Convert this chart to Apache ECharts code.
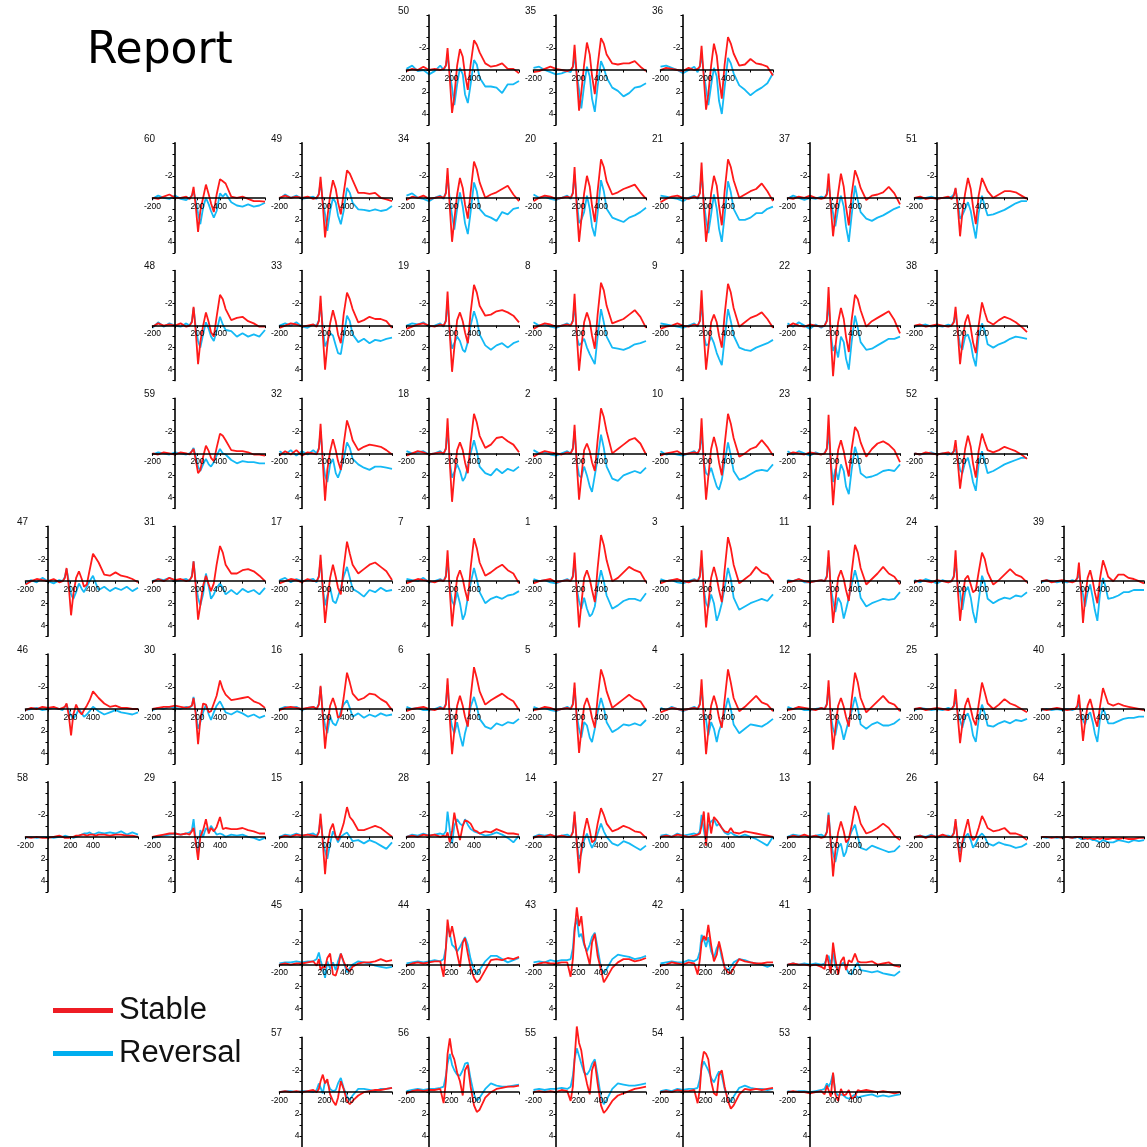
<!DOCTYPE html>
<html>
<head>
<meta charset="utf-8">
<title>Report</title>
<script src="https://cdn.jsdelivr.net/npm/echarts@6/dist/echarts.min.js"></script>
<style>
  html, body { margin: 0; padding: 0; background: #fff; }
  #main { width: 1147px; height: 1147px; }
</style>
</head>
<body>
<div id="main"></div>
<script>
// Sample times (ms) shared by every trace
const times = [-200,-150,-100,-50,0,50,100,130,150,165,185,205,225,250,275,300,320,345,370,400,425,450,500,550,600,650,700,750,800];

// Grand-average ERPs (µV) per electrode: stableNN = Stable condition, reversalNN = Reversal condition
const stable50 = [0.1,-0.1,0,-0.3,0,-0.1,0,-0.1,-0.4,-2.0,0.8,3.9,2.4,-0.4,-1.9,-1.2,0.4,1.8,-0.5,-2.7,-2.3,-1.6,-0.6,-0.3,-0.4,-0.6,-0.1,-0.1,0.3];
const reversal50 = [-0.1,-0.4,0.1,0,0.4,0.1,-0.4,0,-0.4,-1.3,0.3,1.6,3.2,1.3,-0.2,0.4,2.2,3.0,1.3,-0.9,-0.5,0.7,1.5,1.5,1.6,2.1,1.3,1.3,1.0];
const stable35 = [0.2,0.1,-0.1,-0.3,-0.1,0,0.1,0,-0.3,-2.3,0.6,3.7,2.0,-0.5,-2.5,-1.4,0.5,2.2,-0.4,-2.9,-2.4,-1.4,-0.6,-0.5,-0.6,-0.6,-0.8,-0.3,0.1];
const reversal35 = [-0.2,-0.3,0,0.2,0.4,0.3,0.1,0.2,-0.3,-1.2,0.4,1.8,3.5,1.4,-0.3,0.6,2.6,3.8,1.5,-0.8,-0.2,0.7,1.6,1.9,2.4,2.1,1.6,1.5,1.2];
const stable36 = [0,-0.2,-0.1,0,0.1,-0.2,0,-0.1,-0.3,-2.2,0.7,3.6,2.2,-0.4,-2.4,-1.3,0.7,2.6,-0.5,-3.0,-2.4,-1.5,-0.4,-0.5,-1.0,-0.6,-0.5,-0.3,0.5];
const reversal36 = [-0.3,-0.4,-0.2,0,0.3,0,-0.3,0.2,-0.4,-1.3,0.3,1.7,3.2,1.4,-0.2,0.6,2.8,4.0,1.6,-1.1,-0.6,0.3,1.4,1.8,2.3,1.9,1.6,1.2,0.3];

const stable60 = [0,0.1,-0.1,-0.3,0,0,-0.1,0.1,-0.2,-1.0,0.8,3.1,1.2,0,-1.2,-0.3,0.5,1.3,-0.3,-1.7,-1.5,-1.3,-0.1,0,-0.1,0.1,0.3,0.3,0.35];
const reversal60 = [0.1,-0.2,0,0.1,-0.2,0.1,0.2,0,-0.2,-0.6,0.3,1.4,2.4,0.9,0,0.6,1.2,1.8,1.2,-0.4,-0.1,-0.4,0.4,0.7,0.8,0.6,0.8,0.7,0.45];
const stable49 = [0,-0.2,0,-0.1,0,-0.1,0.1,0,-0.3,-1.9,0.6,3.6,1.8,-0.2,-1.6,-0.8,0.4,1.5,-0.4,-2.5,-2.2,-1.6,-0.45,-0.45,-0.35,-0.45,0,0.15,0.3];
const reversal49 = [0.1,-0.3,0,-0.2,0.1,0,-0.1,0.1,-0.4,-1.4,0.3,1.5,3.0,1.2,0,0.45,1.6,2.4,1.2,-0.9,-0.45,0.45,1.05,1.1,1.2,1.05,1.2,1.1,0.75];
const stable34 = [0.2,-0.1,0,-0.2,0.1,0,-0.1,0,-0.4,-2.7,0.9,4.0,2.0,-0.3,-1.8,-0.9,0.6,1.9,-0.5,-3.3,-2.6,-1.4,0,-0.3,-0.5,-0.8,-1.1,-0.3,0.3];
const reversal34 = [-0.2,-0.4,0,0.1,0.3,0,-0.2,0.1,-0.5,-2.0,0.2,1.6,2.9,1.0,-0.5,0.8,2.3,3.3,1.3,-1.4,-0.6,1.0,1.6,1.8,2.1,1.3,1.5,1.0,0.9];
const stable20 = [0.3,0,-0.2,-0.1,0.1,0,-0.1,0,-0.4,-2.8,0.9,4.0,2.0,-0.4,-2.0,-1.0,0.7,2.2,-0.6,-3.5,-2.8,-1.5,-0.3,-0.5,-0.8,-1.0,-1.2,-0.5,0.1];
const reversal20 = [-0.3,0,-0.1,0.1,0.2,0,-0.2,0.1,-0.5,-2.1,0.3,2.3,2.0,1.3,-0.2,1.0,2.6,3.5,1.4,-1.6,-0.6,1.0,1.8,2.0,2.2,1.8,1.6,1.3,0.9];
const stable21 = [0.4,0.1,-0.1,-0.2,0,0.1,-0.1,0,-0.4,-3.2,0.9,4.0,2.2,-0.4,-2.0,-1.1,0.7,2.5,-0.6,-3.5,-2.8,-1.6,0,-0.3,-0.6,-0.8,-1.3,-0.6,0.3];
const reversal21 = [-0.2,-0.1,0,0.1,0.3,0,-0.2,0.1,-0.5,-2.2,0.3,2.0,3.2,1.5,-0.3,1.0,2.8,4.0,1.6,-1.5,-0.5,1.0,2.0,2.0,1.8,1.4,1.4,1.0,0.8];
const stable37 = [0,0.1,-0.1,0,-0.2,0,0.1,0,-0.3,-2.2,0.8,3.5,1.6,-0.4,-2.2,-1.0,0.8,2.5,-0.3,-2.5,-1.8,-0.9,0.2,-0.2,-0.3,-0.5,-1.0,-0.4,0.6];
const reversal37 = [0.1,-0.2,0,0.2,0,0.1,-0.1,0,-0.4,-1.2,0.3,1.4,2.6,1.0,-0.2,0.8,2.6,4.0,1.6,-1.1,0.2,1.3,1.9,2.1,1.8,1.6,1.3,1.0,0.8];
const stable51 = [0,-0.1,0.1,0,0.1,0,-0.1,0.1,-0.2,-0.9,0.8,3.5,1.4,-0.4,-1.8,-0.8,0.8,2.4,-0.2,-1.8,-1.2,-0.6,0,-0.3,-0.6,-0.6,-0.5,-0.2,0.1];
const reversal51 = [0,0.1,0,-0.1,0.1,0,0,-0.1,-0.3,-0.8,0.4,1.9,1.6,1.0,0.4,1.2,2.4,3.7,1.4,-0.2,0.8,1.6,1.5,1.3,1.1,0.8,0.5,0.3,0.3];

const stable48 = [0.1,-0.2,0,-0.1,0,-0.2,0.1,0,-0.3,-1.7,0.6,3.5,1.5,0,-1.2,-0.3,0.6,1.0,-0.8,-2.8,-2.4,-1.5,-0.5,-0.7,-0.8,-0.4,-0.2,0.1,0.1];
const reversal48 = [0.2,-0.3,0.1,-0.2,0,0.1,-0.2,0,-0.4,-1.6,0.2,1.4,2.0,0.8,-0.3,0.3,1.0,1.4,0.5,-0.8,-0.1,0.4,0.5,1.0,0.7,1.0,0.8,1.0,0.4];
const stable33 = [0.2,0,-0.2,-0.1,0.1,0,-0.1,0.1,-0.4,-2.7,0.8,4.0,1.8,-0.2,-1.4,-0.4,0.8,1.6,-1.0,-3.0,-2.4,-1.5,-0.3,-0.5,-0.8,-0.6,-0.6,-0.4,0.2];
const reversal33 = [0,-0.2,0,-0.3,0.1,0.2,-0.1,0,-0.5,-2.0,0.2,1.9,1.4,0.7,0.9,1.8,2.5,2.6,1.0,-0.9,-0.4,0.8,1.5,1.2,1.6,1.3,1.4,1.2,1.1];
const stable19 = [0.3,0.1,-0.1,-0.2,0,0.1,-0.1,0,-0.4,-3.1,0.8,4.2,2.0,-0.5,-1.2,-0.4,0.6,1.6,-1.2,-3.7,-3.0,-1.8,-0.9,-1.0,-1.3,-1.4,-1.2,-0.9,-0.3];
const reversal19 = [0,-0.2,-0.1,-0.3,0.1,0,-0.2,0.1,-0.5,-2.2,0.8,2.1,1.6,1.0,1.4,2.2,2.4,1.5,0,-1.3,-0.5,0.8,1.8,2.2,1.8,1.6,2.0,1.6,1.4];
const stable8 = [0.3,0,-0.2,-0.1,0.1,0,-0.1,0,-0.4,-2.9,0.9,4.1,2.0,-0.3,-1.2,-0.4,0.9,2.1,-1.0,-3.9,-3.2,-1.8,-0.2,-0.4,-0.6,-1.0,-1.4,-0.8,0.2];
const reversal8 = [-0.3,0,-0.1,0.1,0.2,0,-0.2,0,-0.5,-2.0,1.0,1.8,1.6,1.2,2.0,2.6,3.0,3.5,1.0,-1.5,-0.3,1.0,2.0,2.1,2.2,2.0,1.7,1.6,1.4];
const stable9 = [0.3,0.1,0,-0.2,0,0.1,-0.1,0,-0.4,-3.2,0.8,4.0,2.1,-0.3,-1.0,-0.3,0.9,2.0,-1.0,-3.8,-3.0,-1.6,0.1,-0.3,-0.7,-0.9,-1.2,-0.6,0.2];
const reversal9 = [-0.2,-0.1,0,0.1,0.2,0,-0.2,0.1,-0.5,-2.0,0.8,1.8,1.7,1.0,1.6,2.5,3.0,3.6,1.2,-1.5,-0.4,0.9,2.0,2.2,2.3,2.0,1.8,1.6,1.3];
const stable22 = [0.1,-0.2,0,0.1,-0.1,0,0.1,0,-0.4,-3.5,1.0,4.6,2.0,-0.3,-1.6,-0.6,1.0,2.4,-0.5,-2.8,-2.4,-1.4,0.1,-0.4,-0.7,-1.0,-1.3,-0.5,0.7];
const reversal22 = [-0.2,0.1,-0.3,0,0.3,-0.1,0.2,0,-0.5,-2.0,0.8,2.3,1.8,2.9,1.0,1.5,3.0,4.0,1.5,-0.9,0.2,1.5,2.2,2.1,1.8,1.5,1.2,1.2,1.0];
const stable38 = [0,-0.1,0.1,0,-0.1,0,0.1,0,-0.3,-1.7,0.6,3.5,1.6,-0.3,-1.0,0.2,1.5,2.5,0,-2.1,-1.2,-0.4,-0.1,-0.5,-0.8,-0.6,-0.3,0.1,0.6];
const reversal38 = [0.1,0,-0.1,0.1,0,0.1,-0.1,0,-0.4,-1.1,0.5,1.8,2.2,1.0,0.8,1.6,2.8,3.7,1.0,-0.2,0.5,1.7,2.0,1.7,1.5,1.2,1.0,1.1,1.2];

const stable59 = [0,0.1,-0.1,0,0.1,-0.1,0,0.1,-0.2,-0.4,0.6,1.8,1.5,0.3,-0.7,-0.2,0.4,0.7,-0.5,-1.8,-1.6,-1.2,-0.3,-0.2,-0.2,-0.1,0.1,0.1,0.2];
const reversal59 = [0.1,-0.1,0,0.1,-0.1,0,0.1,0,-0.2,-0.5,0.3,1.2,1.6,1.0,0.5,1.0,1.2,0.8,0.2,-0.4,0,0.1,0.6,0.9,0.7,0.8,0.8,0.9,0.9];
const stable32 = [0.2,-0.2,0.1,-0.3,0.2,-0.1,0,0.1,-0.4,-2.7,0.8,4.3,1.5,-0.2,-1.3,-0.3,0.7,1.5,-0.8,-3.0,-2.2,-1.2,-0.3,-0.6,-0.8,-0.7,-0.6,-0.3,0.1];
const reversal32 = [-0.2,0.1,-0.3,0.2,-0.2,0.1,-0.3,0,-0.5,-2.0,0.5,2.0,2.6,1.0,0.5,1.8,2.2,1.5,0.5,-1.0,-0.5,0.5,1.0,1.3,1.5,1.2,1.2,1.3,1.4];
const stable18 = [0.2,0,-0.2,-0.1,0.1,0,-0.1,0,-0.4,-3.2,0.9,4.4,2.0,-0.3,-1.0,-0.3,0.8,1.8,-1.0,-3.6,-2.8,-1.6,-0.5,-0.8,-1.4,-1.5,-1.1,-0.8,-0.1];
const reversal18 = [-0.2,0,-0.1,-0.2,0.1,0,-0.2,0.1,-0.5,-2.2,0.8,2.2,1.7,1.0,1.6,2.5,2.2,1.2,0,-1.2,-0.2,1.2,1.8,2.0,1.4,1.8,1.4,1.6,1.2];
const stable2 = [0.3,0,-0.2,-0.1,0,0.1,-0.1,0,-0.4,-2.6,1.0,4.2,2.2,-0.3,-0.9,-0.2,0.8,1.6,-1.2,-4.1,-3.3,-2.0,0,-0.4,-0.8,-1.2,-1.4,-0.9,0.1];
const reversal2 = [-0.3,0,-0.1,0.1,0.2,0,-0.2,0,-0.5,-2.0,0.8,2.0,2.2,1.2,2.0,3.0,3.5,2.0,0.5,-1.7,-0.5,1.2,2.3,2.5,2.0,1.8,1.6,1.8,1.3];
const stable10 = [0.2,0,-0.1,-0.2,0.1,0,-0.1,0,-0.4,-3.2,0.9,4.2,2.1,-0.4,-1.5,-0.5,0.8,2.0,-0.8,-3.6,-2.7,-1.4,0.3,0,-0.4,-0.6,-1.2,-0.6,0.2];
const reversal10 = [-0.2,0.1,0,0.1,0.2,0,-0.2,0.1,-0.5,-1.8,0.8,1.8,2.0,1.3,2.2,3.0,3.3,2.4,0.8,-1.0,0.2,1.6,2.4,2.2,1.9,1.6,1.5,1.6,1.0];
const stable23 = [0.1,-0.1,0,0.1,-0.1,0,0.1,0,-0.4,-3.5,1.0,4.7,2.0,-0.3,-1.2,-0.2,0.9,2.1,-0.4,-2.4,-2.0,-1.0,0.3,-0.4,-0.9,-1.1,-0.8,-0.3,0.8];
const reversal23 = [-0.2,0.1,-0.2,0,0.2,-0.1,0.1,0,-0.5,-1.8,0.8,2.6,1.4,2.4,1.0,1.6,3.0,3.7,1.5,-0.6,0.3,1.8,2.2,2.1,1.9,1.6,1.5,1.6,1.0];
const stable52 = [0,0.1,-0.1,0,0.1,0,-0.1,0.1,-0.2,-1.2,0.8,3.2,1.6,-0.4,-1.6,-0.6,0.9,2.2,-0.2,-1.8,-1.0,-0.3,-0.1,-0.3,-0.6,-0.4,-0.2,0.1,0.5];
const reversal52 = [0,0.1,0,-0.1,0.1,0,0.1,0,-0.2,-0.4,0.4,1.5,1.8,0.8,0.4,1.5,2.6,3.4,1.0,-0.2,0.8,1.8,1.6,1.3,1.0,0.8,0.6,0.4,0.4];

const stable47 = [0.3,0,-0.2,-0.1,0,-0.2,0.1,0,-0.3,-1.2,0.5,3.1,1.2,-0.3,-0.9,-0.2,0.5,0.3,-1.0,-2.5,-2.1,-1.7,-0.6,-0.5,-0.8,-0.5,-0.4,-0.2,0.1];
const reversal47 = [0.2,-0.1,0.1,-0.3,0,0.2,-0.1,0,-0.4,-1.1,0,1.2,1.6,1.0,0.2,0.7,1.0,0.5,0,-0.5,0.2,0.8,0.5,0.9,0.6,0.8,0.5,0.9,0.6];
const stable31 = [0.1,-0.2,0,-0.3,-0.1,-0.2,0,-0.1,-0.4,-1.8,0.5,3.5,2.2,0.4,-0.5,0.3,0.9,0.2,-1.5,-3.2,-2.6,-1.5,-0.7,-0.7,-1.0,-1.1,-0.9,-0.5,0];
const reversal31 = [0,-0.2,-0.1,-0.3,0,-0.1,-0.2,0,-0.5,-1.8,0.2,1.5,2.2,1.2,-0.7,0.5,1.6,1.2,0.6,0.2,0.6,1.2,0.8,1.2,0.7,1.0,0.8,1.2,0.6];
const stable17 = [0.2,0,-0.2,-0.1,0.1,-0.2,0,0,-0.4,-2.4,0.7,3.8,1.8,-0.3,-1.5,-0.4,0.6,1.2,-1.2,-3.6,-2.5,-1.5,-0.7,-1.1,-1.5,-1.7,-1.3,-0.9,-0.1];
const reversal17 = [-0.1,-0.3,0.1,-0.2,0,-0.1,-0.2,0.1,-0.5,-1.9,0.6,2.2,1.3,0.6,1.8,2.0,1.4,0.6,-0.4,-1.3,-0.3,0.7,1.0,1.4,0.8,1.0,0.6,0.9,0.8];
const stable7 = [0.2,0,-0.2,-0.1,0,0.1,-0.1,0,-0.4,-2.8,0.9,4.1,2.0,-0.3,-1.0,-0.2,0.8,1.8,-1.2,-3.9,-3.0,-1.7,-0.5,-0.8,-1.2,-1.5,-1.0,-0.7,0.2];
const reversal7 = [-0.2,-0.1,0,-0.3,0.1,0,-0.2,0,-0.5,-2.0,0.6,1.8,2.2,1.0,2.0,3.5,3.0,1.5,0.2,-1.2,-0.2,1.0,2.0,1.6,1.4,1.6,1.3,1.2,0.9];
const stable1 = [0.2,0,-0.1,-0.2,0.1,0,-0.1,0,-0.4,-2.6,1.0,4.2,2.1,-0.3,-1.0,-0.2,0.8,1.9,-1.2,-4.2,-3.3,-1.9,0,-0.3,-0.8,-1.3,-1.0,-0.8,0.1];
const reversal1 = [-0.2,0,-0.1,0.1,0.2,0,-0.2,0,-0.5,-1.8,0.7,1.8,2.5,1.5,2.5,3.2,3.0,2.3,0.5,-1.0,0,1.3,2.5,2.2,1.8,1.6,1.6,1.8,1.1];
const stable3 = [0.2,0,-0.1,-0.2,0,0.1,-0.1,0,-0.4,-2.8,1.0,4.2,2.1,-0.3,-1.3,-0.3,0.8,1.9,-1.0,-4.0,-3.0,-1.5,0.2,-0.2,-0.6,-1.3,-0.8,-0.6,0.1];
const reversal3 = [-0.2,0,-0.1,0.1,0.2,0,-0.2,0,-0.5,-2.0,0.7,2.0,2.4,1.2,2.0,3.6,3.0,2.0,0.6,-1.2,-0.2,1.5,2.6,2.3,2.0,1.8,1.6,1.8,1.2];
const stable11 = [0.1,0,-0.2,0,0.1,0,-0.1,0,-0.4,-2.8,0.9,3.8,1.9,-0.3,-1.0,-0.2,0.8,1.8,-0.8,-3.3,-2.6,-1.2,0.3,-0.2,-0.7,-1.3,-0.7,-0.4,0.3];
const reversal11 = [-0.1,0,-0.2,0.1,0.1,0,-0.1,0,-0.5,-2.2,0.6,1.8,2.8,1.5,2.0,3.4,2.6,1.5,0.3,-1.0,0,1.5,2.3,2.0,1.8,1.6,1.7,1.6,1.0];
const stable24 = [0.1,-0.1,0,0.1,-0.1,0,0.1,0,-0.4,-2.8,0.8,3.6,1.6,-0.2,-0.5,0.3,1.0,0.8,-0.8,-2.6,-2.0,-0.8,0.3,-0.1,-0.6,-1.1,-0.6,-0.4,0.1];
const reversal24 = [-0.1,0.1,-0.2,0,0.2,-0.1,0.1,0,-0.5,-1.8,0.5,1.0,2.6,1.0,0.5,1.5,2.8,3.8,1.8,-0.5,0.2,1.6,2.0,1.7,1.5,1.6,1.3,1.4,1.0];
const stable39 = [0,-0.1,0.1,0,-0.1,0,0.1,0,-0.3,-1.7,0.8,3.8,1.6,-0.3,-1.0,0,1.0,2.0,-0.2,-1.9,-1.2,-0.4,0,-0.6,-0.6,-0.3,-0.2,0,0.2];
const reversal39 = [0.1,-0.1,0,0.1,0,0.1,-0.1,0,-0.3,-0.7,0.4,1.2,2.3,1.0,0.3,1.5,2.6,3.6,1.2,-0.3,0.5,1.6,1.5,1.3,1.0,1.0,0.8,0.8,0.8];

const stable46 = [0.1,-0.1,0,-0.2,-0.1,-0.2,0,-0.1,-0.2,-0.5,0.6,2.4,0.5,-0.4,0.2,0.5,0.1,-0.3,-0.8,-1.6,-1.3,-1.0,-0.5,-0.2,-0.3,-0.1,-0.1,0,0];
const reversal46 = [0.1,0,-0.1,0.1,0,-0.1,0,0.1,-0.2,-0.4,0.2,0.6,0.9,0.5,0,0.4,0.7,0.5,0.2,-0.2,0,0.2,0.5,0.3,0.1,0.3,0.4,0.5,0.3];
const stable30 = [0,-0.1,-0.2,-0.2,-0.3,-0.2,-0.1,-0.2,-0.3,-1.0,0.5,3.2,1.0,-0.5,-0.4,0.3,0.2,-0.5,-1.2,-2.6,-1.8,-1.3,-0.8,-0.9,-1.0,-1.1,-0.7,-0.5,-0.1];
const reversal30 = [0.1,-0.1,0,-0.2,-0.1,0,-0.2,-0.1,-0.3,-1.1,0.3,1.8,1.2,0.3,-0.4,0.5,1.0,0.3,-0.3,-0.7,-0.2,0.3,0.5,0.2,0.4,0.7,0.5,0.8,0.6];
const stable16 = [0.1,-0.1,-0.2,-0.1,0,-0.1,-0.2,0,-0.4,-2.1,0.6,3.6,1.5,-0.3,-1.0,-0.2,0.8,0.6,-1.0,-3.3,-2.4,-1.4,-0.8,-1.0,-1.4,-1.3,-0.9,-0.6,0.1];
const reversal16 = [0,-0.2,-0.1,-0.2,0.1,-0.1,-0.2,0,-0.5,-2.0,0.4,1.5,2.2,0.7,1.3,1.5,1.0,0.2,-0.4,-0.8,-0.1,0.7,0.4,0.8,0.5,0.7,0.4,0.6,0.5];
const stable6 = [0.2,0,-0.1,-0.2,0,0.1,-0.1,0,-0.4,-2.8,0.9,4.1,2.0,-0.3,-1.2,-0.3,0.7,1.6,-1.1,-3.8,-2.8,-1.6,-0.4,-0.8,-1.1,-1.4,-1.0,-0.7,0.1];
const reversal6 = [-0.2,0,-0.1,0.1,0.1,0,-0.2,0,-0.5,-2.2,0.5,1.6,2.2,1.2,2.4,3.4,2.2,1.2,-0.2,-1.1,-0.2,0.9,1.6,1.8,1.3,1.5,1.2,1.3,0.9];
const stable5 = [0.1,0,-0.2,-0.1,0.1,0,-0.1,0,-0.4,-2.4,1.0,4.0,2.0,-0.3,-1.0,-0.2,0.8,1.7,-1.0,-3.6,-2.8,-1.6,-0.1,-0.5,-0.9,-1.3,-0.9,-0.7,0.1];
const reversal5 = [-0.2,0,-0.1,0.1,0.2,0,-0.2,0,-0.5,-1.9,0.6,1.8,2.6,1.2,1.5,2.6,3.0,1.8,0.3,-1.0,-0.1,1.2,2.1,1.8,1.4,1.5,1.3,1.5,1.0];
const stable4 = [0.3,0.1,-0.1,0,0.1,0,-0.1,0,-0.4,-2.7,0.9,4.1,2.0,-0.3,-1.2,-0.3,0.8,1.7,-0.8,-3.6,-2.4,-1.0,0.2,-0.2,-0.7,-1.2,-0.6,-0.4,0.2];
const reversal4 = [-0.1,0.1,-0.2,0,0.2,0,-0.2,0,-0.5,-1.8,0.4,1.0,2.4,1.2,1.8,3.0,2.0,1.3,0.3,-1.0,0,1.4,2.2,1.8,1.4,1.5,1.6,1.3,0.9];
const stable12 = [0.1,0,-0.2,-0.1,0,0.1,-0.1,0,-0.4,-2.6,0.9,3.7,1.8,-0.3,-1.0,-0.2,0.7,1.6,-0.8,-3.3,-2.4,-1.0,0.3,-0.2,-0.7,-1.2,-0.6,-0.4,0.2];
const reversal12 = [-0.2,0,-0.1,0.1,0.1,0,-0.1,0,-0.5,-2.0,0.6,1.8,2.4,1.0,1.6,2.8,2.0,1.0,0.2,-1.1,-0.1,1.4,1.8,1.4,1.2,1.5,1.5,1.3,0.9];
const stable25 = [0,-0.1,0.1,0,-0.1,0,0.1,0,-0.3,-1.8,0.7,3.1,1.4,-0.3,-1.0,0,0.9,1.5,-0.4,-2.4,-1.5,-0.5,0,-0.4,-0.9,-0.5,-0.3,0,0.3];
const reversal25 = [0.1,-0.1,0,0.1,0,0.1,-0.1,0,-0.3,-1.0,0.4,1.0,1.7,0.7,0.4,1.2,2.4,3.0,1.0,-0.4,0.4,1.5,1.6,1.3,1.1,1.3,1.0,1.1,0.9];
const stable40 = [0,0.1,0,-0.1,0,0.1,0,0,-0.3,-1.3,0.7,2.9,1.2,-0.3,-0.9,0,0.9,1.6,-0.2,-1.9,-1.2,-0.5,-0.3,-0.5,-0.3,-0.2,-0.1,0,0.1];
const reversal40 = [0.1,0,0.1,0,0.1,0,0.1,0,-0.2,-0.5,0.4,1.0,1.4,0.6,0.3,1.2,2.2,3.0,1.0,-0.1,0.5,1.3,1.3,1.1,0.9,0.8,0.8,0.7,0.7];

const stable58 = [0,0.1,0,0.1,0.1,0,-0.1,0,0.1,0,0.1,0,0,-0.1,-0.1,-0.2,-0.2,-0.1,-0.2,-0.2,-0.1,-0.2,-0.2,-0.1,-0.2,-0.2,-0.1,-0.1,0];
const reversal58 = [0.1,0,0.1,0,0,0.1,0,0,-0.1,0,0,0,0.1,0,-0.1,-0.2,-0.3,-0.3,-0.4,-0.2,-0.3,-0.4,-0.3,-0.4,-0.3,-0.5,-0.2,-0.4,-0.2];
const stable29 = [0,-0.1,-0.2,-0.3,-0.3,-0.2,-0.3,-0.2,-0.5,-0.8,0.5,2.1,0,-0.6,-1.6,-0.3,-0.8,-0.5,-0.9,-1.8,-0.7,-0.8,-0.7,-0.7,-0.8,-0.6,-0.5,-0.3,-0.3];
const reversal29 = [0.1,0,-0.1,-0.2,-0.3,-0.2,-0.3,-0.4,-0.6,-1.6,0.4,1.5,-0.6,0,-0.8,-0.5,-1.0,-0.6,-0.2,-0.3,-0.2,0,-0.2,-0.1,-0.2,0,0.1,0.3,0.1];
const stable15 = [0.1,-0.1,0,-0.2,-0.1,-0.2,-0.1,0,-0.4,-2.1,0.5,3.4,0.8,-0.6,-1.2,0,0.3,-0.4,-1.2,-2.7,-1.8,-1.5,-0.6,-0.6,-0.8,-1.0,-0.8,-0.4,0];
const reversal15 = [0,-0.2,-0.1,-0.3,-0.1,-0.2,-0.3,-0.1,-0.5,-1.6,0.2,1.3,2.0,0.6,-0.5,0,0.5,0,-0.2,-0.4,0,0.4,0.3,0.6,0.3,0.5,0.8,1.1,0.5];
const stable28 = [0,-0.1,0,-0.2,-0.1,-0.2,0,-0.1,0,-0.4,0.5,-0.5,-2.2,-0.8,0.3,-1.0,-1.5,-1.4,-1.2,-0.6,-0.5,-0.3,-0.5,-0.4,-0.7,-0.5,-0.3,-0.3,-0.2];
const reversal28 = [0,-0.2,-0.1,-0.3,-0.1,-0.2,-0.3,-0.2,-0.5,-2.3,-0.6,0.6,-1.0,-1.6,-1.2,-1.0,-1.6,-1.1,-0.7,-0.5,-0.4,-0.3,-0.1,-0.2,-0.4,-0.2,0.1,0.5,-0.1];
const stable14 = [0.1,-0.1,0,-0.2,0,-0.1,0,0,-0.4,-2.3,0.6,3.3,1.2,-0.5,-1.7,-0.6,0.5,0.3,-1.2,-2.6,-2.0,-1.2,-0.5,-0.7,-1.0,-0.8,-0.5,-0.4,0.1];
const reversal14 = [0,-0.2,-0.1,-0.2,0,-0.1,-0.2,0,-0.5,-2.0,0.5,2.0,1.5,0.3,-0.3,0.5,1.0,0.5,-0.3,-1.2,-0.5,0,0.6,0.8,0.4,0.6,0.9,1.2,0.8];
const stable27 = [0,-0.1,0,-0.2,-0.1,0,-0.1,-0.2,-0.3,-1.0,-2.3,0.8,-2.2,-0.3,-1.8,-1.5,-1.2,-0.8,-0.5,-0.4,-0.8,-0.4,-0.3,-0.5,-0.4,-0.3,-0.2,-0.1,0];
const reversal27 = [-0.1,-0.2,0,-0.3,-0.1,-0.2,-0.3,-0.2,-0.5,-2.0,-0.6,0.5,-1.0,-1.4,-1.6,-1.0,-1.2,-0.8,-0.4,-0.2,-0.4,-0.2,0,-0.2,0,0.2,0.5,0.8,0];
const stable13 = [0.1,-0.1,0,-0.2,0,-0.1,0.1,0,-0.4,-2.0,0.6,3.6,1.3,-0.4,-1.4,-0.5,0.5,0.2,-1.0,-2.8,-2.2,-1.2,-0.3,-0.5,-0.8,-1.2,-0.8,-0.1,0.3];
const reversal13 = [0,-0.2,-0.1,-0.1,0,-0.1,-0.2,0,-0.5,-2.2,0.4,1.5,2.3,1.0,0.6,1.8,1.4,0.2,-0.5,-1.1,0,1.0,1.2,0.8,1.0,1.2,1.4,1.3,0.8];
const stable26 = [0,-0.1,0.1,-0.1,0,-0.2,0,0,-0.3,-1.6,0.5,2.3,0.5,-0.6,-1.6,-0.2,0.3,0,-0.8,-1.9,-1.4,-0.8,-0.5,-0.6,-0.8,-0.3,-0.3,-0.1,0.3];
const reversal26 = [0,-0.1,0,-0.2,0.1,-0.1,-0.1,0,-0.4,-1.4,0.3,1.4,0.8,0,-0.3,0.3,1.0,0.6,0,-0.3,0,0.6,0.8,0.5,0.7,0.8,1.0,0.9,0.6];
const stable64 = [0,0,0.1,0,0.1,0,0.1,0,0,0.1,0,0.2,0.1,0.2,0.1,0.2,0.2,0.1,0.2,0.1,0.2,0.2,0.1,0.2,0.1,0.2,0.2,0.1,0.1];
const reversal64 = [0,0.1,0,0.1,0,0,0.1,0.1,0,0.1,0.2,0.2,0.2,0.1,0.2,0.3,0.3,0.4,0.5,0.3,0.4,0.5,0.5,0.3,0.4,0.5,0.3,0.4,0.3];

const stable45 = [0,-0.1,0,-0.1,-0.1,-0.2,-0.3,0.1,-0.5,0.5,0.2,0.3,-0.6,-1.0,0.9,1.0,0.3,-1.0,-0.3,0.4,0.6,0.2,-0.1,-0.2,-0.2,-0.3,-0.5,-0.3,-0.4];
const reversal45 = [-0.1,-0.2,-0.2,-0.3,-0.2,-0.3,-0.3,-0.5,-1.1,-0.4,0.3,1.2,-0.3,0.4,-0.2,0.5,-0.3,-1.0,-0.2,0.7,0.3,0,-0.3,-0.2,-0.1,0.1,0.2,0.3,0.2];
const stable44 = [0.1,-0.1,-0.2,-0.1,-0.2,-0.3,-0.3,1.1,-1.5,-4.1,-2.5,-3.5,-2.5,-1.0,0.2,-2.0,-2.4,-1.0,0.3,1.2,1.6,1.4,0.5,-0.4,-0.5,-0.4,-0.6,-0.5,-0.7];
const reversal44 = [-0.1,-0.2,-0.3,-0.2,-0.3,-0.4,-0.3,-0.5,-1.5,-3.5,-2.8,-1.8,-1.6,-1.2,-1.6,-2.1,-2.5,-1.8,-0.5,0.5,0.9,0.5,-0.3,-0.8,-0.8,-0.5,-0.2,-0.4,-0.6];
const stable43 = [0.1,-0.1,-0.2,-0.1,-0.1,-0.2,-0.2,1.1,-0.5,-3.0,-5.2,-3.5,-4.4,-2.0,-1.0,0,-2.0,-2.8,-0.8,0.5,1.6,1.2,0.3,-0.2,-0.5,-0.5,-0.3,-0.4,-0.6];
const reversal43 = [-0.2,-0.3,-0.2,-0.4,-0.3,-0.4,-0.4,-0.5,-1.5,-3.4,-4.2,-2.5,-2.8,-1.8,-1.2,-1.8,-2.5,-2.9,-1.5,0.3,0.8,0.4,-0.5,-0.9,-0.8,-0.7,-0.5,-0.6,-0.8];
const stable42 = [0.1,0,-0.2,-0.1,0,-0.2,-0.1,0.9,-0.5,-2.0,-2.6,-2.2,-3.6,-1.8,-0.3,-0.9,-2.1,-1.0,0.3,0.7,0.8,0.3,-0.5,-0.3,-0.2,-0.1,-0.1,-0.2,-0.2];
const reversal42 = [-0.1,-0.2,-0.3,-0.2,-0.2,-0.4,-0.3,-0.5,-1.2,-2.7,-2.3,-1.6,-2.5,-1.2,-0.6,-1.5,-1.9,-0.6,0.2,0.5,0.2,-0.2,-0.5,-0.4,-0.2,-0.1,0,0.2,0];
const stable41 = [0,-0.1,0,0,0.1,0,0.2,0.4,-0.9,-0.2,0.8,-2.0,-0.5,0.9,-0.3,-0.7,0.5,-0.4,-0.2,-1.0,-0.3,-0.2,-0.2,-0.3,0,-0.1,-0.2,0.1,0.2];
const reversal41 = [0,-0.1,0,-0.1,0,-0.1,0,-0.1,-0.6,-0.8,0,-1.1,0.2,0.4,0,-0.2,0.3,0.8,0.9,0.2,-0.2,0.5,0.6,0.7,0.6,0.8,0.9,1.0,0.6];

const stable57 = [0,-0.1,0,-0.1,0,-0.1,-0.2,0,-0.3,-1.0,-1.6,-0.8,-1.2,0.2,0.8,1.2,0.5,-1.0,-0.3,0.8,1.1,0.8,0.3,0,-0.1,-0.2,-0.2,-0.3,-0.4];
const reversal57 = [0,-0.1,-0.1,0,-0.1,-0.1,0,-0.2,-0.8,-0.9,0.1,-1.0,-0.9,-0.3,-0.1,-0.2,-0.8,-1.3,-0.4,0.4,0.7,0.3,-0.3,-0.3,-0.2,-0.1,-0.3,-0.3,-0.4];
const stable56 = [0.1,-0.1,-0.2,-0.1,-0.2,-0.2,-0.3,1.0,-1.0,-3.5,-4.9,-3.5,-3.0,-1.8,-1.0,0.3,-2.0,-2.5,-0.5,1.2,1.8,1.6,0.5,0,-0.3,-0.4,-0.5,-0.5,-0.6];
const reversal56 = [-0.1,-0.2,-0.3,-0.2,-0.3,-0.3,-0.4,-0.5,-1.5,-2.6,-3.5,-2.5,-2.0,-1.6,-1.5,-2.0,-2.6,-2.7,-1.2,0.2,0.8,0.5,-0.3,-0.8,-0.6,-0.5,-0.5,-0.6,-0.7];
const stable55 = [0,-0.1,0,-0.1,0,-0.2,-0.1,0.8,-0.5,-3.0,-6.0,-4.5,-3.8,-2.0,-0.8,0.2,-2.0,-2.8,-0.8,1.2,1.9,1.6,0.8,0.3,0.1,-0.1,-0.3,-0.4,-0.5];
const reversal55 = [-0.2,-0.3,-0.2,-0.3,-0.3,-0.4,-0.3,-0.5,-1.5,-3.0,-4.0,-3.3,-2.6,-1.8,-1.6,-2.0,-2.6,-3.0,-1.5,0.5,1.1,0.7,-0.3,-0.8,-0.7,-0.6,-0.6,-0.7,-0.8];
const stable54 = [0,-0.1,0,-0.2,-0.1,-0.1,-0.2,1.0,-0.3,-2.5,-3.7,-3.5,-3.0,-1.0,0.1,0.3,-1.6,-2.0,-0.5,0.8,1.5,1.2,0.2,-0.3,-0.2,-0.3,-0.2,-0.3,-0.4];
const reversal54 = [-0.1,-0.2,-0.1,-0.3,-0.2,-0.3,-0.3,-0.4,-1.2,-2.2,-2.8,-2.4,-2.0,-1.3,-0.9,-1.5,-1.9,-1.5,-0.3,0.6,0.9,0.4,-0.4,-0.6,-0.4,-0.3,-0.3,-0.2,-0.3];
const stable53 = [0,-0.1,0,0,0.1,0,-0.1,0.2,-0.6,-0.2,0.4,-1.8,0.2,0.8,-0.3,0.3,0.2,-0.2,0.6,0.4,-0.2,-0.1,-0.2,-0.1,0,-0.1,0,0.1,0];
const reversal53 = [-0.1,0,-0.1,-0.1,0,-0.1,-0.2,-0.3,-0.8,-0.5,-0.9,-1.7,0,0.3,0.2,0.3,0.5,0.6,0.4,0.2,0.5,0.4,0.3,0.2,0.4,0.3,0.4,0.3,0.2];

// Electrode montage: each row lists its first column and its electrodes left to right
const montage = [
  { start: 3, ch: ['50', '35', '36'] },
  { start: 1, ch: ['60', '49', '34', '20', '21', '37', '51'] },
  { start: 1, ch: ['48', '33', '19', '8', '9', '22', '38'] },
  { start: 1, ch: ['59', '32', '18', '2', '10', '23', '52'] },
  { start: 0, ch: ['47', '31', '17', '7', '1', '3', '11', '24', '39'] },
  { start: 0, ch: ['46', '30', '16', '6', '5', '4', '12', '25', '40'] },
  { start: 0, ch: ['58', '29', '15', '28', '14', '27', '13', '26', '64'] },
  { start: 2, ch: ['45', '44', '43', '42', '41'] },
  { start: 2, ch: ['57', '56', '55', '54', '53'] }
];

const waves = {
  '50': [stable50, reversal50], '35': [stable35, reversal35], '36': [stable36, reversal36],
  '60': [stable60, reversal60], '49': [stable49, reversal49], '34': [stable34, reversal34],
  '20': [stable20, reversal20], '21': [stable21, reversal21], '37': [stable37, reversal37],
  '51': [stable51, reversal51], '48': [stable48, reversal48], '33': [stable33, reversal33],
  '19': [stable19, reversal19], '8': [stable8, reversal8], '9': [stable9, reversal9],
  '22': [stable22, reversal22], '38': [stable38, reversal38], '59': [stable59, reversal59],
  '32': [stable32, reversal32], '18': [stable18, reversal18], '2': [stable2, reversal2],
  '10': [stable10, reversal10], '23': [stable23, reversal23], '52': [stable52, reversal52],
  '47': [stable47, reversal47], '31': [stable31, reversal31], '17': [stable17, reversal17],
  '7': [stable7, reversal7], '1': [stable1, reversal1], '3': [stable3, reversal3],
  '11': [stable11, reversal11], '24': [stable24, reversal24], '39': [stable39, reversal39],
  '46': [stable46, reversal46], '30': [stable30, reversal30], '16': [stable16, reversal16],
  '6': [stable6, reversal6], '5': [stable5, reversal5], '4': [stable4, reversal4],
  '12': [stable12, reversal12], '25': [stable25, reversal25], '40': [stable40, reversal40],
  '58': [stable58, reversal58], '29': [stable29, reversal29], '15': [stable15, reversal15],
  '28': [stable28, reversal28], '14': [stable14, reversal14], '27': [stable27, reversal27],
  '13': [stable13, reversal13], '26': [stable26, reversal26], '64': [stable64, reversal64],
  '45': [stable45, reversal45], '44': [stable44, reversal44], '43': [stable43, reversal43],
  '42': [stable42, reversal42], '41': [stable41, reversal41], '57': [stable57, reversal57],
  '56': [stable56, reversal56], '55': [stable55, reversal55], '54': [stable54, reversal54],
  '53': [stable53, reversal53]
};

const xTickLabels = [-200, 200, 400];
const yTickLabels = [-2, 2, 4];
const conditionNames = ['Stable', 'Reversal'];

// Layout of the panel grid
const COL0 = 48, COL_STEP = 127;      // x of time zero in the first column
const ROW0 = 70, ROW_STEP = 127.8;    // y of 0 µV in the first row
const PX_PER_MS = 0.1125, PX_PER_UV = 11;
const T_MIN = -200, T_MAX = 800, V_LIM = 5;
const RED = '#ff1a1a', BLUE = '#14b9f5';

const grids = [], xAxes = [], yAxes = [], series = [], labels = [];
const axisColor = '#000';

montage.forEach((row, r) => {
  row.ch.forEach((ch, k) => {
    const c = row.start + k;
    const x0 = COL0 + COL_STEP * c;
    const y0 = ROW0 + ROW_STEP * r;
    const gi = grids.length;
    grids.push({
      left: x0 + T_MIN * PX_PER_MS,
      top: y0 - V_LIM * PX_PER_UV,
      width: (T_MAX - T_MIN) * PX_PER_MS,
      height: 2 * V_LIM * PX_PER_UV,
      containLabel: false
    });
    // time axis drawn through 0 µV (offset up from the bottom edge)
    xAxes.push({
      gridIndex: gi, type: 'value', min: T_MIN, max: T_MAX, interval: 200, z: 5,
      position: 'bottom', offset: -V_LIM * PX_PER_UV,
      axisLine: { onZero: false, lineStyle: { color: axisColor, width: 1.6 } },
      axisTick: { show: true, length: 2.5, lineStyle: { color: axisColor, width: 1 } },
      axisLabel: {
        fontSize: 8.5, fontFamily: 'Liberation Sans', color: '#000', margin: 4,
        showMinLabel: true, showMaxLabel: true, hideOverlap: false,
        formatter: v => (xTickLabels.includes(v) ? String(v) : '')
      },
      splitLine: { show: false }
    });
    // voltage axis drawn through time 0 (offset in from the left edge)
    yAxes.push({
      gridIndex: gi, type: 'value', inverse: true, min: -V_LIM, max: V_LIM, interval: 1, z: 5,
      position: 'left', offset: T_MIN * PX_PER_MS,
      axisLine: { onZero: false, lineStyle: { color: axisColor, width: 1.6 } },
      axisTick: { show: true, length: 2.5, lineStyle: { color: axisColor, width: 1 } },
      axisLabel: {
        fontSize: 8.5, fontFamily: 'Liberation Sans', color: '#000', margin: 2.5,
        showMinLabel: true, showMaxLabel: true, hideOverlap: false,
        formatter: v => (yTickLabels.includes(v) ? String(v) : '')
      },
      splitLine: { show: false }
    });
    const pair = waves[ch];
    [1, 0].forEach(ci => {
      series.push({
        name: conditionNames[ci], type: 'line', xAxisIndex: gi, yAxisIndex: gi,
        data: times.map((t, i) => [t, pair[ci][i]]),
        showSymbol: false, symbol: 'none', clip: false, smooth: false,
        lineStyle: { color: ci === 0 ? RED : BLUE, width: 1.8 },
        itemStyle: { color: ci === 0 ? RED : BLUE },
        z: 2 + (ci === 0 ? 1 : 0)
      });
    });
    labels.push({
      type: 'text', x: x0 - 31, y: y0 - 64, silent: true,
      style: { text: ch, font: '10px "Liberation Sans"', fill: '#111', verticalAlign: 'top' }
    });
  });
});

labels.push({
  type: 'text', x: 87, y: 30, silent: true,
  style: { text: 'Report', font: '44px "DejaVu Sans"', fill: '#000', verticalAlign: 'top' }
});

const chart = echarts.init(document.getElementById('main'), null, { renderer: 'canvas' });
chart.setOption({
  animation: false,
  backgroundColor: '#ffffff',
  grid: grids,
  xAxis: xAxes,
  yAxis: yAxes,
  series: series,
  legend: {
    data: [
      { name: 'Stable', itemStyle: { color: '#ee1c24' } },
      { name: 'Reversal', itemStyle: { color: '#00aeef' } }
    ],
    orient: 'vertical', left: 48, top: 990,
    icon: 'rect', itemWidth: 60, itemHeight: 5, itemGap: 12,
    textStyle: { fontSize: 31, fontFamily: 'Liberation Sans', color: '#111', padding: [0, 0, 0, 1] },
    selectedMode: false
  },
  graphic: labels
});
</script>
</body>
</html>
